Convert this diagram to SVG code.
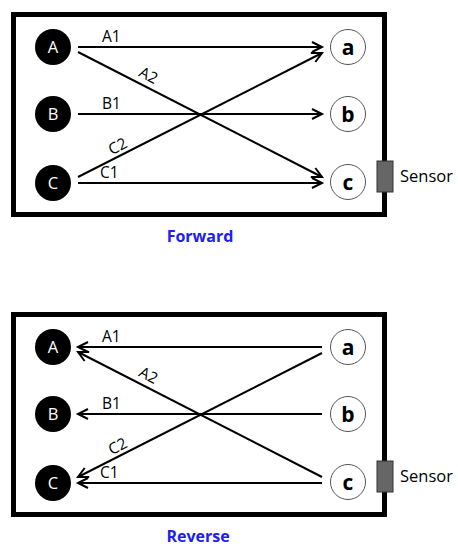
<svg xmlns="http://www.w3.org/2000/svg" width="458" height="550" viewBox="0 0 458 550">
<defs>
<style>
.frame{fill:#fff;stroke:#000;stroke-width:5}
.big{fill:#000}
.small{fill:#fff;stroke:#555;stroke-width:1}
.lblU{font-family:"Open Sans",sans-serif;font-size:16.5px;fill:#fff;text-anchor:middle}
.lblL{font-family:"Open Sans",sans-serif;font-size:21px;font-weight:bold;fill:#000;text-anchor:middle}
.edge{stroke:#000;stroke-width:2;fill:none}
.elbl{font-family:"Open Sans",sans-serif;font-size:15.5px;fill:#000}
.rl{text-anchor:middle}
.sensor{fill:#666;stroke:#333;stroke-width:1}
.stxt{font-family:"Open Sans",sans-serif;font-size:16.5px;fill:#000}
.title{font-family:"Open Sans",sans-serif;font-size:16px;font-weight:bold;fill:#2020ee;text-anchor:middle}
</style>
<marker id="arr" markerUnits="userSpaceOnUse" markerWidth="14" markerHeight="14" refX="11" refY="6" orient="auto">
<path d="M1,1 L11,6 L1,11" fill="none" stroke="#000" stroke-width="2"/>
</marker>
</defs>

<g id="frame-forward">
<rect class="frame" x="13.5" y="14.5" width="371" height="200"/>
</g>
<g id="sensor-forward">
<rect class="sensor" x="377" y="161" width="16" height="31"/>
<text class="stxt" x="400" y="182">Sensor</text>
</g>
<g id="frame-reverse">
<rect class="frame" x="13.5" y="314.5" width="371" height="200"/>
</g>
<g id="sensor-reverse">
<rect class="sensor" x="377" y="461" width="16" height="31"/>
<text class="stxt" x="400" y="482">Sensor</text>
</g>

<g id="connectors">
<line class="edge" x1="78" y1="47" x2="322" y2="47" marker-end="url(#arr)"/>
<line class="edge" x1="78" y1="52" x2="322" y2="177" marker-end="url(#arr)"/>
<line class="edge" x1="78" y1="114" x2="322" y2="114" marker-end="url(#arr)"/>
<line class="edge" x1="78" y1="177" x2="322" y2="53" marker-end="url(#arr)"/>
<line class="edge" x1="78" y1="183" x2="322" y2="183" marker-end="url(#arr)"/>
<line class="edge" x1="322" y1="347" x2="78" y2="347" marker-end="url(#arr)"/>
<line class="edge" x1="322" y1="477" x2="78" y2="352" marker-end="url(#arr)"/>
<line class="edge" x1="322" y1="414" x2="78" y2="414" marker-end="url(#arr)"/>
<line class="edge" x1="322" y1="353" x2="78" y2="477" marker-end="url(#arr)"/>
<line class="edge" x1="322" y1="483" x2="78" y2="483" marker-end="url(#arr)"/>
<text class="elbl" x="102" y="42">A1</text>
<text class="elbl rl" transform="translate(146,80) rotate(27)">A2</text>
<text class="elbl" x="102" y="109">B1</text>
<text class="elbl rl" transform="translate(120,151) rotate(-27)">C2</text>
<text class="elbl" x="100" y="178">C1</text>
<text class="elbl" x="102" y="342">A1</text>
<text class="elbl rl" transform="translate(146,380) rotate(27)">A2</text>
<text class="elbl" x="102" y="409">B1</text>
<text class="elbl rl" transform="translate(120,451) rotate(-27)">C2</text>
<text class="elbl" x="100" y="478">C1</text>
</g>

<g id="node-A-fwd"><circle class="big" cx="53" cy="47" r="18"/><text class="lblU" x="53" y="53">A</text></g>
<g id="node-B-fwd"><circle class="big" cx="53" cy="114" r="18"/><text class="lblU" x="53" y="120">B</text></g>
<g id="node-C-fwd"><circle class="big" cx="53" cy="183" r="18"/><text class="lblU" x="53" y="189">C</text></g>
<g id="node-a-fwd"><circle class="small" cx="348" cy="47" r="17.5"/><text class="lblL" x="348" y="54.5">a</text></g>
<g id="node-b-fwd"><circle class="small" cx="348" cy="114" r="17.5"/><text class="lblL" x="348" y="121.5">b</text></g>
<g id="node-c-fwd"><circle class="small" cx="348" cy="182" r="17.5"/><text class="lblL" x="348" y="189.5">c</text></g>

<g id="node-A-rev"><circle class="big" cx="53" cy="347" r="18"/><text class="lblU" x="53" y="353">A</text></g>
<g id="node-B-rev"><circle class="big" cx="53" cy="414" r="18"/><text class="lblU" x="53" y="420">B</text></g>
<g id="node-C-rev"><circle class="big" cx="53" cy="483" r="18"/><text class="lblU" x="53" y="489">C</text></g>
<g id="node-a-rev"><circle class="small" cx="348" cy="347" r="17.5"/><text class="lblL" x="348" y="354.5">a</text></g>
<g id="node-b-rev"><circle class="small" cx="348" cy="414" r="17.5"/><text class="lblL" x="348" y="421.5">b</text></g>
<g id="node-c-rev"><circle class="small" cx="348" cy="482" r="17.5"/><text class="lblL" x="348" y="489.5">c</text></g>

<text class="title" x="200" y="242">Forward</text>
<text class="title" x="198" y="542">Reverse</text>
</svg>
